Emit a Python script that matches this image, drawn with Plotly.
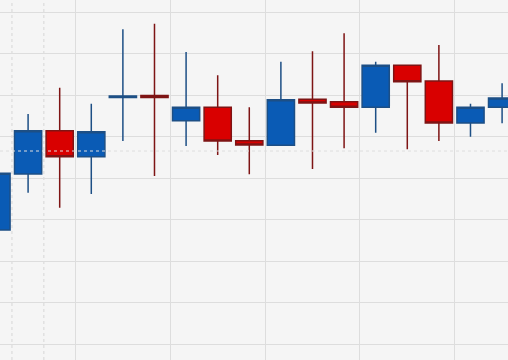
import plotly.graph_objects as go

# Pixel-read values converted to price units (grid step = 1 unit)
idx = list(range(17))
# raw pixel reads (y from top); converted below via the axis scale
open_px  = [230.0, 174.0, 130.7, 156.7, 97.5, 95.5, 120.7, 107.3, 140.7, 145.3, 99.3, 101.7, 107.3, 65.3, 81.0, 123.0, 107.3]
high_px  = [171.0, 114.0, 87.7, 103.7, 29.3, 23.7, 52.0, 75.3, 107.3, 61.7, 51.3, 33.3, 61.7, 65.3, 45.0, 103.7, 83.3]
low_px   = [232.0, 192.7, 207.7, 194.0, 141.0, 176.0, 146.0, 155.0, 174.3, 145.3, 169.0, 148.3, 132.7, 149.3, 141.0, 136.7, 123.3]
close_px = [173.3, 130.7, 156.7, 131.7, 96.0, 97.5, 107.3, 141.0, 145.0, 99.7, 103.0, 107.3, 65.3, 81.7, 123.0, 107.3, 98.0]

def to_price(p):
    return round((344.0 - p) / 41.5 + 1.0, 4)

opens = [to_price(v) for v in open_px]
highs = [to_price(v) for v in high_px]
lows = [to_price(v) for v in low_px]
closes = [to_price(v) for v in close_px]
ref_price = to_price(151.0)

fig = go.Figure()
fig.add_trace(go.Candlestick(
    x=idx, open=opens, high=highs, low=lows, close=closes,
    increasing=dict(fillcolor="#0a5bb5", line=dict(color="#1d4f85", width=1.5)),
    decreasing=dict(fillcolor="#d90000", line=dict(color="#7e1414", width=1.5)),
    whiskerwidth=0, showlegend=False, hoverinfo="skip",
))

# price reference dotted line
fig.add_shape(type="line", xref="paper", x0=0, x1=1, yref="y", y0=ref_price, y1=ref_price,
              line=dict(color="#dedede", width=1, dash="dot"), layer="above")
# dotted session lines
for xv in [0.49, 1.5]:
    fig.add_shape(type="line", xref="x", x0=xv, x1=xv, yref="paper", y0=0, y1=1,
                  line=dict(color="#d6d6d6", width=1, dash="dot"), layer="below")

ytop = (344.0 - 0) / 41.5 + 1.0
ybot = (344.0 - 360) / 41.5 + 1.0
fig.update_layout(
    width=508, height=360,
    margin=dict(l=0, r=0, t=0, b=0),
    boxgap=0.14, boxgroupgap=0,
    paper_bgcolor="#f5f5f5", plot_bgcolor="#f5f5f5",
    xaxis=dict(range=[0.111, 16.187], showticklabels=False, rangeslider=dict(visible=False),
               tick0=2.5, dtick=3, gridcolor="#dddddd", gridwidth=1.3, zeroline=False, showline=False),
    yaxis=dict(range=[ybot, ytop], showticklabels=False, tick0=0, dtick=1,
               gridcolor="#dddddd", gridwidth=1.3, zeroline=False, showline=False),
)
fig.write_html("out.html")
